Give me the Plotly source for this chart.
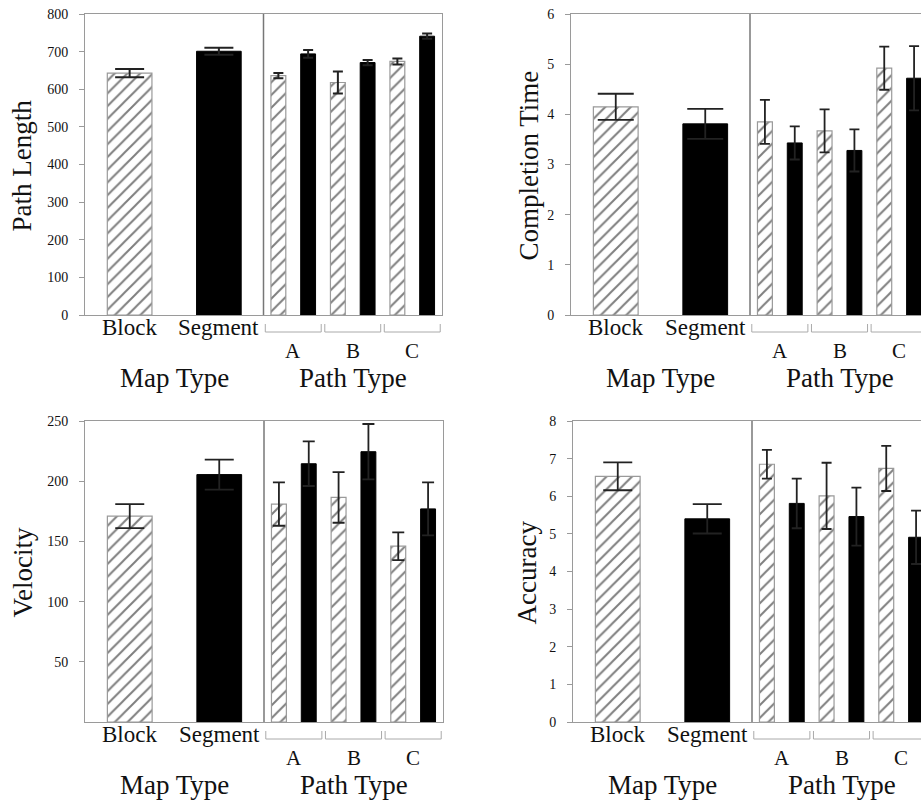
import plotly.graph_objects as go

# ---------------- data ----------------
map_types = ["Block", "Segment"]
path_types = ["A", "B", "C"]

path_length_map = [643, 701]
path_length_map_err = [11, 9]
path_length_block = [636, 618, 674]
path_length_block_err = [7, 29, 8]
path_length_segment = [694, 671, 741]
path_length_segment_err = [10, 7, 7]

completion_map = [4.15, 3.81]
completion_map_err = [0.26, 0.30]
completion_block = [3.85, 3.67, 4.92]
completion_block_err = [0.44, 0.43, 0.43]
completion_segment = [3.43, 3.28, 4.72]
completion_segment_err = [0.33, 0.42, 0.64]

velocity_map = [171, 205.5]
velocity_map_err = [10, 12.5]
velocity_block = [181, 186.5, 146]
velocity_block_err = [18, 21, 11.5]
velocity_segment = [214.5, 224.5, 177]
velocity_segment_err = [18.5, 23, 22]

accuracy_map = [6.53, 5.40]
accuracy_map_err = [0.37, 0.39]
accuracy_block = [6.85, 6.01, 6.74]
accuracy_block_err = [0.38, 0.88, 0.60]
accuracy_segment = [5.81, 5.46, 4.91]
accuracy_segment_err = [0.66, 0.77, 0.71]

y_ticks_path_length = [0, 100, 200, 300, 400, 500, 600, 700, 800]
y_ticks_completion = [0, 1, 2, 3, 4, 5, 6]
y_ticks_velocity = [50, 100, 150, 200, 250]
y_ticks_accuracy = [0, 1, 2, 3, 4, 5, 6, 7, 8]

# ---------------- layout geometry (pixels) ----------------
W, H = 921, 803
UNIT = 89.5  # pixels per category unit
FONT = "Liberation Serif"

panels = [
    dict(title="Path Length", m=path_length_map, me=path_length_map_err,
         b=path_length_block, be=path_length_block_err,
         s=path_length_segment, se=path_length_segment_err,
         yr=[0, 800], tv=y_ticks_path_length,
         left=85, right=442, top=14, bottom=315, mirror=True,
         cap_big=14.5, cap_small=5, eth=2.0, title_x=22),
    dict(title="Completion Time", m=completion_map, me=completion_map_err,
         b=completion_block, be=completion_block_err,
         s=completion_segment, se=completion_segment_err,
         yr=[0, 6], tv=y_ticks_completion,
         left=571, right=921, top=14, bottom=315, mirror=False,
         cap_big=18, cap_small=5, eth=1.8, title_x=529),
    dict(title="Velocity", m=velocity_map, me=velocity_map_err,
         b=velocity_block, be=velocity_block_err,
         s=velocity_segment, se=velocity_segment_err,
         yr=[0, 250], tv=y_ticks_velocity,
         left=85, right=443, top=421, bottom=722, mirror=True,
         cap_big=14.5, cap_small=6, eth=1.8, title_x=22),
    dict(title="Accuracy", m=accuracy_map, me=accuracy_map_err,
         b=accuracy_block, be=accuracy_block_err,
         s=accuracy_segment, se=accuracy_segment_err,
         yr=[0, 8], tv=y_ticks_accuracy,
         left=573, right=921, top=421, bottom=722, mirror=False,
         cap_big=14.5, cap_small=5, eth=1.8, title_x=526),
]


def px(x):
    return x / W


def py(y):
    return 1 - y / H


hatch = dict(shape="/", fgcolor="#000000", bgcolor="white", size=9, solidity=0.22)
ERR_COLOR = "#222222"

fig = go.Figure()
layout = dict(width=W, height=H, margin=dict(l=0, r=0, t=0, b=0, autoexpand=False),
              paper_bgcolor="white", plot_bgcolor="white",
              showlegend=False, barmode="overlay")
shapes = []
annotations = []

n_map = len(map_types)
n_path = len(path_types)
group_w = 2.0 / n_path
bar_w_small = group_w / 4

for i, p in enumerate(panels, start=1):
    xa = "x" if i == 1 else f"x{i}"
    ya = "y" if i == 1 else f"y{i}"
    xr = [0, (p["right"] - p["left"]) / UNIT]
    if p["mirror"]:
        xr = [0, 4]

    map_x = [k + 0.5 for k in range(n_map)]
    grp_x = [n_map + (j + 0.5) * group_w for j in range(n_path)]
    blk_x = [g - bar_w_small for g in grp_x]
    seg_x = [g + bar_w_small for g in grp_x]

    # map type bars
    fig.add_trace(go.Bar(
        x=[map_x[0]], y=[p["m"][0]], width=0.5, xaxis=xa, yaxis=ya,
        marker=dict(color="white", line=dict(color="#9a9a9a", width=1.2), pattern=hatch),
        error_y=dict(type="data", array=[p["me"][0]], color=ERR_COLOR,
                     thickness=p["eth"], width=p["cap_big"]),
        name=map_types[0]))
    fig.add_trace(go.Bar(
        x=[map_x[1]], y=[p["m"][1]], width=0.5, xaxis=xa, yaxis=ya,
        marker=dict(color="black", line=dict(color="black", width=1)),
        error_y=dict(type="data", array=[p["me"][1]], color=ERR_COLOR,
                     thickness=p["eth"], width=p["cap_big"]),
        name=map_types[1]))
    # path type bars
    fig.add_trace(go.Bar(
        x=blk_x, y=p["b"], width=bar_w_small, xaxis=xa, yaxis=ya,
        marker=dict(color="white", line=dict(color="#9a9a9a", width=1.2), pattern=hatch),
        error_y=dict(type="data", array=p["be"], color=ERR_COLOR,
                     thickness=p["eth"], width=p["cap_small"]),
        name=map_types[0]))
    fig.add_trace(go.Bar(
        x=seg_x, y=p["s"], width=bar_w_small, xaxis=xa, yaxis=ya,
        marker=dict(color="black", line=dict(color="black", width=1)),
        error_y=dict(type="data", array=p["se"], color=ERR_COLOR,
                     thickness=p["eth"], width=p["cap_small"]),
        name=map_types[1]))

    xkey = "xaxis" if i == 1 else f"xaxis{i}"
    ykey = "yaxis" if i == 1 else f"yaxis{i}"
    layout[xkey] = dict(domain=[px(p["left"]), px(p["right"])], range=xr, anchor=ya,
                        showline=True, linecolor="#9a9a9a", linewidth=1, mirror=True,
                        ticks="", showticklabels=False, showgrid=False, zeroline=False,
                        automargin=False, fixedrange=True)
    layout[ykey] = dict(domain=[py(p["bottom"]), py(p["top"])], range=p["yr"], anchor=xa,
                        tickvals=p["tv"], ticks="outside", ticklen=5, tickcolor="#9a9a9a",
                        tickwidth=1, showline=True, linecolor="#9a9a9a", linewidth=1,
                        mirror=p["mirror"], showgrid=False, zeroline=False,
                        tickfont=dict(family=FONT, size=14, color="#111111"),
                        ticklabelstandoff=8, automargin=False, fixedrange=True)

    # divider between map type and path type sections
    shapes.append(dict(type="line", xref=xa, yref=f"{ya} domain", x0=n_map, x1=n_map,
                       y0=0, y1=1, line=dict(color="#777777", width=1.5)))

    # brackets under path type groups
    yb = py(p["bottom"] + 17)
    yt = py(p["bottom"] + 9)
    for j in range(n_path):
        g0 = n_map + j * group_w + 0.02
        g1 = n_map + (j + 1) * group_w - 0.02
        shapes.append(dict(type="path", xref=xa, yref="paper",
                           path=f"M {g0} {yt} L {g0} {yb} L {g1} {yb} L {g1} {yt}",
                           line=dict(color="#aaaaaa", width=1)))
        annotations.append(dict(text=path_types[j], xref=xa, yref="paper",
                                x=grp_x[j], y=py(p["bottom"] + 36), showarrow=False,
                                xanchor="center", yanchor="middle",
                                font=dict(family=FONT, size=21, color="#111111")))

    for k in range(n_map):
        annotations.append(dict(text=map_types[k], xref=xa, yref="paper",
                                x=map_x[k], y=py(p["bottom"] + 12), showarrow=False,
                                xanchor="center", yanchor="middle",
                                font=dict(family=FONT, size=23, color="#111111")))

    annotations.append(dict(text="Map Type", xref=xa, yref="paper", x=n_map / 2,
                            y=py(p["bottom"] + 63), showarrow=False,
                            xanchor="center", yanchor="middle",
                            font=dict(family=FONT, size=27, color="#111111")))
    annotations.append(dict(text="Path Type", xref=xa, yref="paper", x=n_map + 1,
                            y=py(p["bottom"] + 63), showarrow=False,
                            xanchor="center", yanchor="middle",
                            font=dict(family=FONT, size=27, color="#111111")))
    annotations.append(dict(text=p["title"], xref="paper", yref="paper",
                            x=px(p["title_x"]), y=py((p["top"] + p["bottom"]) / 2 + 1),
                            textangle=-90, showarrow=False,
                            xanchor="center", yanchor="middle",
                            font=dict(family=FONT, size=27, color="#111111")))

layout["shapes"] = shapes
layout["annotations"] = annotations
fig.update_layout(**layout)
fig.write_html("out.html",
               config={"displayModeBar": False, "staticPlot": True},
               post_script="document.body.style.margin='0px';"
                           "document.documentElement.style.overflow='hidden';")
